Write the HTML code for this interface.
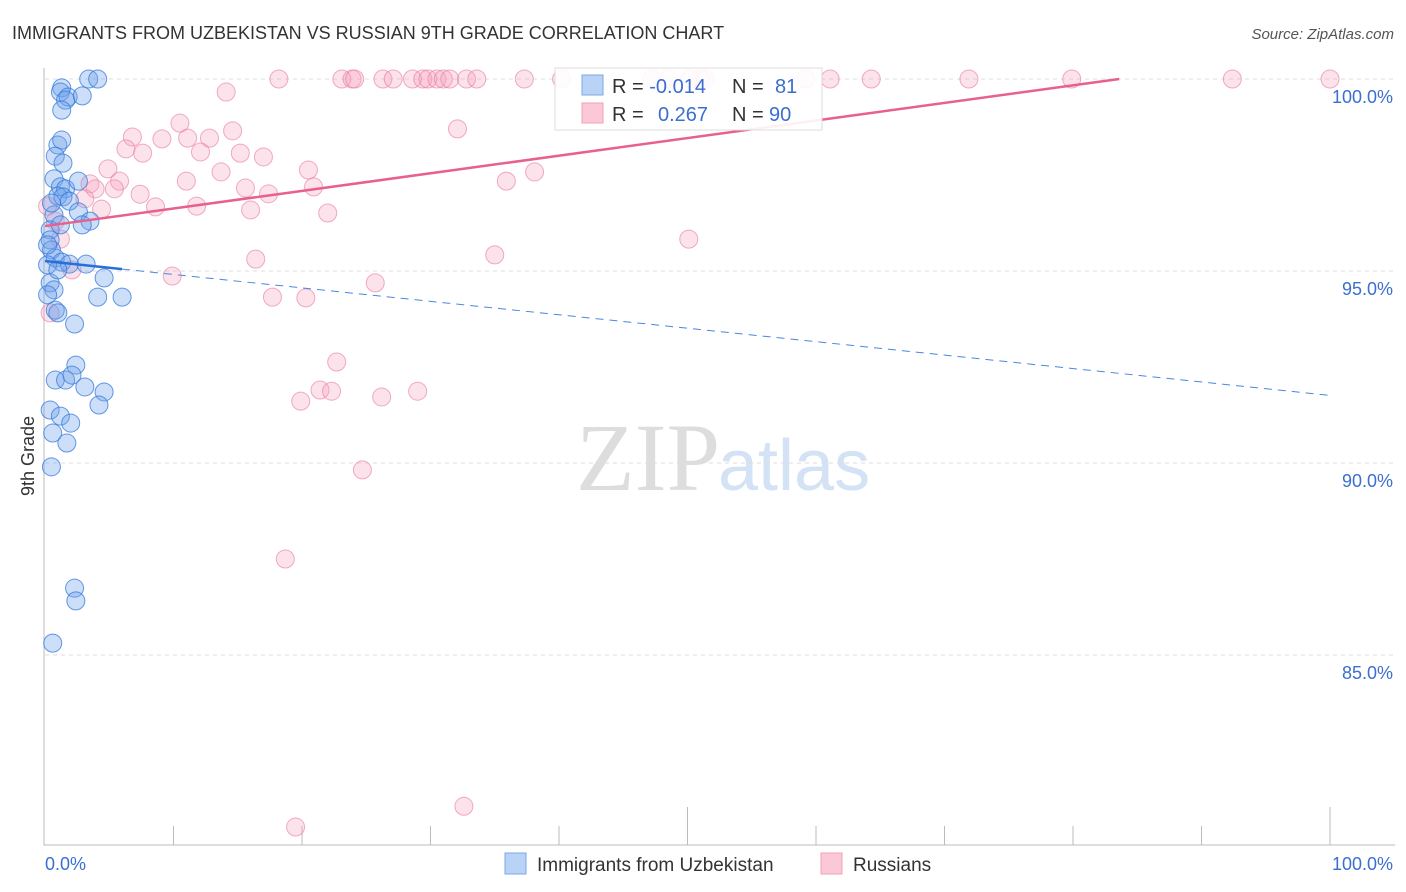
<!DOCTYPE html>
<html><head><meta charset="utf-8"><style>
body{margin:0;background:#fff;font-family:"Liberation Sans",sans-serif}
svg{display:block}
</style></head><body>
<svg id="c" width="1406" height="892">
<text x="12" y="39" font-size="18" fill="#333">IMMIGRANTS FROM UZBEKISTAN VS RUSSIAN 9TH GRADE CORRELATION CHART</text>
<text x="1394" y="39" font-size="15" fill="#555" font-style="italic" text-anchor="end">Source: ZipAtlas.com</text>
<text x="720" y="490" font-size="96" fill="#ddd" text-anchor="end" font-family="Liberation Serif">ZIP</text>
<text x="718" y="490" font-size="72" fill="#d4e2f5">atlas</text>
<text transform="translate(34,456) rotate(-90)" font-size="18" fill="#333" text-anchor="middle">9th Grade</text>
<g id="grid"></g><g id="marks"></g>
<g>
<rect x="555" y="68" width="267" height="62" fill="#fff" fill-opacity="0.9" stroke="#ddd"/>
<rect x="582" y="75" width="21" height="20" fill="#b8d3f5" stroke="#7aa8e6"/>
<rect x="582" y="103" width="21" height="20" fill="#fbc8d7" stroke="#f0a0b8"/>
<text x="612" y="93" font-size="20" fill="#333">R = <tspan fill="#3a6fd0">-0.014</tspan><tspan x="732">N = </tspan><tspan x="775" fill="#3a6fd0">81</tspan></text>
<text x="612" y="121" font-size="20" fill="#333">R = <tspan x="658" fill="#3a6fd0">0.267</tspan><tspan x="732">N = </tspan><tspan x="769" fill="#3a6fd0">90</tspan></text>
</g>
<g>
<rect x="505" y="853" width="21" height="21" fill="#b8d3f5" stroke="#7aa8e6"/>
<text x="537" y="871" font-size="19" fill="#333">Immigrants from Uzbekistan</text>
<rect x="821" y="853" width="21" height="21" fill="#fbc8d7" stroke="#f0a0b8"/>
<text x="853" y="871" font-size="19" fill="#333">Russians</text>
</g>
</svg>
<script>
const yTicks=[100,95,90,85];
const xTickLabels=["0.0%","100.0%"];
const blueX=[3.4,4.1,1.3,1.2,1.8,2.9,1.6,1.3,1,1.3,0.8,1.4,0.7,1.2,1.6,1,1.4,1.9,2.6,2.6,3.5,2.9,0.7,0.4,0.4,0.5,0.8,1.3,1.9,3.2,0.2,0.4,0.7,0.2,4.1,6,4.6,0.8,1,2.3,2.4,0.8,1.6,2.1,3.1,4.6,4.2,0.4,1.2,2,0.6,1.7,0.5,2.3,2.4,0.6,0.5,1,0.2,1.2];
const blueY=[100,100,99.77,99.66,99.53,99.56,99.45,99.19,98.28,98.41,97.99,97.81,97.4,97.19,97.14,96.95,96.93,96.82,97.34,96.54,96.3,96.2,96.46,96.07,95.81,95.55,95.34,95.23,95.18,95.18,95.16,94.69,94.51,94.38,94.32,94.32,94.82,93.98,93.91,93.62,92.55,92.16,92.16,92.29,91.98,91.85,91.51,91.38,91.22,91.04,90.78,90.52,89.9,86.74,86.41,85.31,96.77,95.03,95.68,96.2];
const pinkX=[18.2,23.1,23.9,24.1,26.3,27.1,28.6,29.4,29.8,30.5,31,31.5,32.8,33.6,37.3,40.2,47.2,48.5,50.2,51,51.4,59.2,61.1,64.3,71.9,79.9,92.4,100,14.1,32.1,10.5,6.8,9.1,11.1,12.8,14.6,6.3,7.6,12.1,15.2,17,4.9,13.7,20.5,38.1,35.9,3.5,5.8,11
,3.9,5.4,15.6,17.4,20.9,7.4,3.1,11.8,8.6,16,22,4.4,50.1,35,16.4,9.9,25.7,2.1,17.7,20.3,22.7,21.4,19.9,22.3,26.2,29,24.7,18.7,19.5,32.6,0.4,1.2,0.8,0.2];
const pinkY=[100,100,100,100,100,100,100,100,100,100,100,100,100,100,100,100,100,100,100,100,100,100,100,100,100,100,100,100,99.66,98.7,98.85,98.49,98.44,98.46,98.46,98.65,98.18,98.07,98.1,98.07,97.97,97.66,97.58,97.63,97.58,97.34,97.27,97.34,97.34,97.14,97.14,97.16,97.01,97.19,97,96.88,96.69,96.67,96.59,96.51,96.61,95.83,95.42,95.31,94.87,94.69,95.03,94.32,94.3,92.63,91.9,91.61,91.87,91.72,91.87,89.82,87.5,80.52,81.06,93.91,95.83,96.3,96.69];
const pinkLine=[0,96.17,83.6,100];
const blueLine=[0,95.26,6,95.05,100,91.76];
const X0=45,X1=1330,Y100=79,PPP=38.4;
const sx=v=>X0+(X1-X0)*v/100, sy=v=>Y100+(100-v)*PPP;
const NS="http://www.w3.org/2000/svg";
function mk(t,a,p){const e=document.createElementNS(NS,t);for(const k in a)e.setAttribute(k,a[k]);p.appendChild(e);return e;}
const g=document.getElementById('grid'),m=document.getElementById('marks');
yTicks.forEach(t=>{
 const l=mk('line',{x1:45,x2:1395,y1:sy(t),y2:sy(t),stroke:'#ddd','stroke-dasharray':'4,4'},g);
 
 
 const tx=mk('text',{x:1393,y:sy(t)+24,'font-size':18,fill:'#3a6fd0','text-anchor':'end'},g);
 tx.textContent=t.toFixed(1)+'%';
 
 
});
const ax=mk('path',{d:'M44,68 V845 H1395',stroke:'#bbb',fill:'none'},g);


for(let i=1;i<=10;i++){const x=sx(i*10);const tk=mk('line',{x1:x,x2:x,y1:(i==5||i==10)?807:826,y2:845,stroke:'#bbb'},g);
 
 }
[[0,'start',45],[100,'end',1393]].forEach((d,i)=>{const tx=mk('text',{x:d[2],y:870,'font-size':18,fill:'#3a6fd0','text-anchor':d[1]},g);tx.textContent=xTickLabels[i];
 
 });
pinkX.forEach((v,i)=>{const c=mk('circle',{cx:sx(v),cy:sy(pinkY[i]),r:9,fill:'rgba(244,160,188,0.3)',stroke:'rgba(232,120,155,0.6)'},m);
 
 });
blueX.forEach((v,i)=>{const c=mk('circle',{cx:sx(v),cy:sy(blueY[i]),r:9,fill:'rgba(110,160,235,0.35)',stroke:'rgba(50,120,220,0.75)'},m);
 
 });
const pl=mk('line',{x1:sx(pinkLine[0]),y1:sy(pinkLine[1]),x2:sx(pinkLine[2]),y2:sy(pinkLine[3]),stroke:'#e8608c','stroke-width':2.5},m);


const bl=mk('line',{x1:sx(blueLine[0]),y1:sy(blueLine[1]),x2:sx(blueLine[2]),y2:sy(blueLine[3]),stroke:'#2a6fd8','stroke-width':2.5},m);


const bd=mk('line',{x1:sx(blueLine[2]),y1:sy(blueLine[3]),x2:sx(blueLine[4]),y2:sy(blueLine[5]),stroke:'#4a86e0','stroke-width':1,'stroke-dasharray':'8,6'},m);


</script>
</body></html>
